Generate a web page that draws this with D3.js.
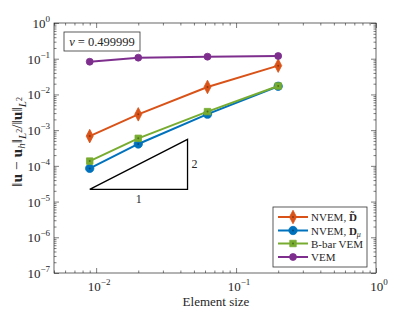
<html lang="en">
<head>
<meta charset="utf-8">
<title>Convergence</title>
<script src="https://cdn.jsdelivr.net/npm/d3@7"></script>
<style>
  body { margin: 0; background: #fff; }
  text { font-family: "Liberation Serif", "DejaVu Serif", serif; fill: #262626; }
</style>
</head>
<body>
<script>
// data
var h = [0.009, 0.02, 0.0625, 0.2];
var nvemTilde = [6.8e-4, 2.77e-3, 1.62e-2, 6.4e-2];
var nvemMu = [8.5e-5, 4.1e-4, 2.8e-3, 1.69e-2];
var bbarVem = [1.36e-4, 5.9e-4, 3.3e-3, 1.72e-2];
var vem = [0.0824, 0.107, 0.114, 0.119];
var xTicks = [0.01, 0.1, 1];
var xTickExp = ["-2", "-1", "0"];
var yTicks = [1e-7, 1e-6, 1e-5, 1e-4, 1e-3, 1e-2, 1e-1, 1];
var yTickExp = ["-7", "-6", "-5", "-4", "-3", "-2", "-1", "0"];
var triX = [0.009, 0.045];
var triY0 = 2.2e-5;
var triSlope = 2;

var w = 415, ht = 312;
var pLeft = 54, pRight = 376, pTop = 23, pBottom = 273;

var svg = d3.select("body").append("svg")
  .attr("width", w).attr("height", ht);

var x = d3.scaleLog().domain([0.005, 1]).range([pLeft, pRight]);
var y = d3.scaleLog().domain([1e-7, 1]).range([pBottom, pTop]);

// minor tick values
var xMinor = [], yMinor = [];
[0.001, 0.01, 0.1].forEach(function(d) {
  for (var k = 2; k <= 9; k++) { var v = d * k; if (v >= 0.005 && v <= 1) xMinor.push(v); }
});
[1e-7, 1e-6, 1e-5, 1e-4, 1e-3, 1e-2, 1e-1].forEach(function(d) {
  for (var k = 2; k <= 9; k++) yMinor.push(d * k);
});

var axisCol = "#262626";
function addAxis(gen, tr) {
  var g = svg.append("g").attr("transform", tr).call(gen);
  g.select(".domain").remove();
  g.selectAll("line").attr("stroke", axisCol).attr("stroke-width", 0.6);
  g.selectAll("text").remove();
  return g;
}
addAxis(d3.axisBottom(x).tickValues(xTicks).tickSize(-5), "translate(0," + pBottom + ")");
addAxis(d3.axisBottom(x).tickValues(xMinor).tickSize(-2.5), "translate(0," + pBottom + ")");
addAxis(d3.axisTop(x).tickValues(xTicks).tickSize(-5), "translate(0," + pTop + ")");
addAxis(d3.axisTop(x).tickValues(xMinor).tickSize(-2.5), "translate(0," + pTop + ")");
addAxis(d3.axisLeft(y).tickValues(yTicks).tickSize(-5), "translate(" + pLeft + ",0)");
addAxis(d3.axisLeft(y).tickValues(yMinor).tickSize(-2.5), "translate(" + pLeft + ",0)");
addAxis(d3.axisRight(y).tickValues(yTicks).tickSize(-5), "translate(" + pRight + ",0)");
addAxis(d3.axisRight(y).tickValues(yMinor).tickSize(-2.5), "translate(" + pRight + ",0)");

svg.append("rect").attr("x", pLeft).attr("y", pTop)
  .attr("width", pRight - pLeft).attr("height", pBottom - pTop)
  .attr("fill", "none").attr("stroke", axisCol).attr("stroke-width", 0.7);

// tick labels
var xl = svg.selectAll(".xlab").data(xTicks).enter().append("text")
  .attr("x", function(d) { return x(d) + 3; })
  .attr("y", 291)
  .attr("text-anchor", "middle")
  .attr("font-size", 13);
xl.append("tspan").text("10");
xl.append("tspan").attr("font-size", 9).attr("dy", -6)
  .text(function(d, i) { return xTickExp[i].replace("-", "\u2212"); });

var yl = svg.selectAll(".ylab").data(yTicks).enter().append("text")
  .attr("x", 50)
  .attr("y", function(d) { return y(d) + 5; })
  .attr("text-anchor", "end")
  .attr("font-size", 13);
yl.append("tspan").text("10");
yl.append("tspan").attr("font-size", 9).attr("dy", -6)
  .text(function(d, i) { return yTickExp[i].replace("-", "\u2212"); });

// axis titles
svg.append("text").attr("x", 216).attr("y", 306)
  .attr("text-anchor", "middle").attr("font-size", 13).text("Element size");

var yt = svg.append("text")
  .attr("transform", "translate(22,142) rotate(-90)")
  .attr("text-anchor", "middle").attr("font-size", 15.5);
yt.append("tspan").attr("font-weight", "normal").text("\u2016");
yt.append("tspan").attr("font-weight", "bold").text("u");
yt.append("tspan").text(" \u2212 ");
yt.append("tspan").attr("font-weight", "bold").text("u");
yt.append("tspan").attr("font-size", 11).attr("font-style", "italic").attr("dy", 3).text("h");
yt.append("tspan").attr("dy", -3).text("\u2016");
yt.append("tspan").attr("font-size", 11).attr("font-style", "italic").attr("dy", 4).text("L");
yt.append("tspan").attr("font-size", 8).attr("dy", -4).text("2");
yt.append("tspan").attr("dy", 0).text("/\u2016");
yt.append("tspan").attr("font-weight", "bold").text("u");
yt.append("tspan").text("\u2016");
yt.append("tspan").attr("font-size", 11).attr("font-style", "italic").attr("dy", 4).text("L");
yt.append("tspan").attr("font-size", 8).attr("dy", -4).text("2");

// series
var series = [
  { name: "tilde", vals: nvemTilde, color: "#D95319", marker: "diamond" },
  { name: "mu", vals: nvemMu, color: "#0072BD", marker: "circle" },
  { name: "bbar", vals: bbarVem, color: "#77AC30", marker: "square" },
  { name: "vem", vals: vem, color: "#7E2F8E", marker: "small" }
];

var line = d3.line()
  .x(function(d) { return x(d[0]); })
  .y(function(d) { return y(d[1]); });

var symbols = {
  diamond: d3.symbol().type(d3.symbolDiamond).size(48),
  circle: d3.symbol().type(d3.symbolCircle).size(55),
  square: d3.symbol().type(d3.symbolSquare).size(42),
  small: d3.symbol().type(d3.symbolCircle).size(38)
};

function drawMarker(g, s, cx, cy) {
  g.append("path").attr("d", symbols[s.marker]())
    .attr("transform", "translate(" + cx + "," + cy + ")" + (s.marker === "diamond" ? " scale(0.95,1.05)" : ""))
    .attr("fill", s.color).attr("stroke", s.color).attr("stroke-width", 0.8);
  if (s.marker !== "small")
    g.append("circle").attr("cx", cx).attr("cy", cy).attr("r", 1)
      .attr("fill", d3.color(s.color).darker(1.2));
}

series.forEach(function(s) {
  var pts = h.map(function(d, i) { return [d, s.vals[i]]; });
  svg.append("path").datum(pts).attr("d", line)
    .attr("fill", "none").attr("stroke", s.color).attr("stroke-width", 2);
  var g = svg.append("g");
  pts.forEach(function(p) { drawMarker(g, s, x(p[0]), y(p[1])); });
});

// slope triangle
var triY1 = triY0 * Math.pow(triX[1] / triX[0], triSlope);
var tri = [[triX[0], triY0], [triX[1], triY0], [triX[1], triY1], [triX[0], triY0]];
svg.append("path").datum(tri).attr("d", line)
  .attr("fill", "none").attr("stroke", "#000").attr("stroke-width", 1.3);
svg.append("text").attr("x", (x(triX[0]) + x(triX[1])) / 2).attr("y", 203)
  .attr("text-anchor", "middle").attr("font-size", 12).text("1");
svg.append("text").attr("x", x(triX[1]) + 4).attr("y", (y(triY0) + y(triY1)) / 2 + 4)
  .attr("font-size", 12).text("2");

// nu annotation
svg.append("rect").attr("x", 64).attr("y", 32).attr("width", 76).attr("height", 19)
  .attr("fill", "#fff").attr("stroke", "#333").attr("stroke-width", 0.8);
var nu = svg.append("text").attr("x", 102).attr("y", 46)
  .attr("text-anchor", "middle").attr("font-size", 12.5);
nu.append("tspan").attr("font-style", "italic").text("\u03bd");
nu.append("tspan").text(" = 0.499999");

// legend
var lg = svg.append("g");
lg.append("rect").attr("x", 273).attr("y", 207).attr("width", 94).attr("height", 60)
  .attr("fill", "#fff").attr("stroke", "#333").attr("stroke-width", 0.8);
var rows = [217, 230.5, 243.5, 257];
series.forEach(function(s, i) {
  lg.append("line").attr("x1", 278).attr("x2", 308).attr("y1", rows[i]).attr("y2", rows[i])
    .attr("stroke", s.color).attr("stroke-width", 2);
  drawMarker(lg, s, 293, rows[i]);
  var t = lg.append("text").attr("x", 311).attr("y", rows[i] + 4).attr("font-size", 11);
  if (i === 0) {
    t.append("tspan").text("NVEM, ");
    t.append("tspan").attr("font-weight", "bold").text("D\u0303");
  } else if (i === 1) {
    t.append("tspan").text("NVEM, ");
    t.append("tspan").attr("font-weight", "bold").text("D");
    t.append("tspan").attr("font-size", 8).attr("font-style", "italic").attr("dy", 2).text("\u03bc");
  } else if (i === 2) {
    t.text("B-bar VEM");
  } else {
    t.text("VEM");
  }
});
</script>
</body>
</html>
